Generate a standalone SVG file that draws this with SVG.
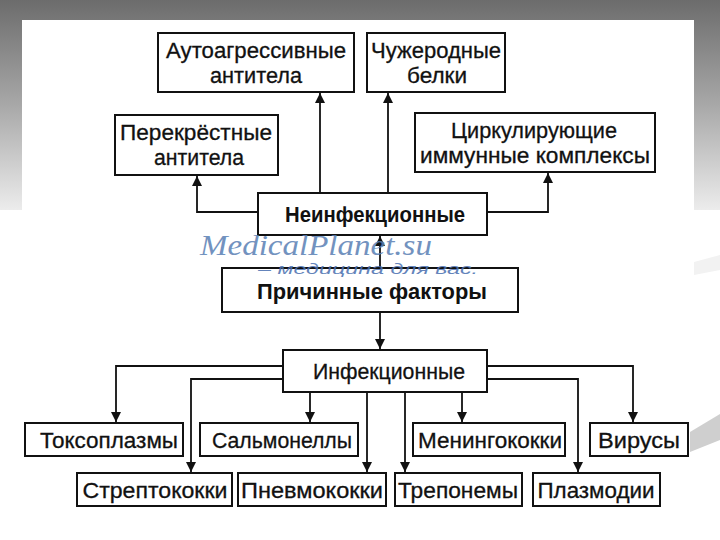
<svg xmlns="http://www.w3.org/2000/svg" width="720" height="540" viewBox="0 0 720 540">
<defs>
<linearGradient id="bg" x1="0" y1="0" x2="0" y2="1">
<stop offset="0" stop-color="#6c6c6c"/>
<stop offset="0.5" stop-color="#a8a8a8"/>
<stop offset="1" stop-color="#ececec"/>
</linearGradient>
<marker id="ah" viewBox="0 0 10 12" refX="10" refY="6" markerWidth="10" markerHeight="12" markerUnits="userSpaceOnUse" orient="auto">
<path d="M0,1 L10,6 L0,11 z" fill="#111"/>
</marker>
<style>
.box{fill:#fff;stroke:#111;stroke-width:2}
.t{font-family:"Liberation Sans",Arial,sans-serif;font-size:22px;fill:#111;text-anchor:middle;stroke:#111;stroke-width:0.3}
.b{font-weight:bold;stroke-width:0}
.c{fill:none;stroke:#111;stroke-width:1.8;marker-end:url(#ah)}
.wm{font-family:"Liberation Serif",serif;font-style:italic;fill:#5a7fb5;opacity:0.85}
.wm2{font-family:"Liberation Sans",sans-serif;font-style:italic;fill:#4a6fb0;opacity:0.85}
</style>
</defs>
<rect x="0" y="0" width="720" height="210" fill="url(#bg)"/>
<rect x="22" y="20" width="672" height="520" fill="#fff"/>
<rect x="0" y="210" width="720" height="330" fill="#fff"/>
<path d="M690,432 L720,414 L720,440 L690,452 z" fill="#cfcfcf"/>
<path d="M694,262 L720,255 L720,270 L694,275 z" fill="#f2f2f2"/>

<g id="connectors">
<path class="c" d="M320,193 V93"/>
<path class="c" d="M388,193 V93"/>
<path class="c" d="M258,212 H197 V176"/>
<path class="c" d="M487,212 H548 V173"/>
<path class="c" d="M380,268 V236"/>
<path class="c" d="M380,312 V349"/>
<path class="c" d="M283,366 H116 V422"/>
<path class="c" d="M283,379 H191 V472"/>
<path class="c" d="M310,392 V422"/>
<path class="c" d="M367,392 V472"/>
<path class="c" d="M405,392 V472"/>
<path class="c" d="M462,392 V422"/>
<path class="c" d="M487,366 H633 V422"/>
<path class="c" d="M487,379 H578 V472"/>
</g>

<g id="autoaggr"><rect class="box" x="158" y="33" width="196" height="59"/>
<text class="t" x="256" y="58" textLength="180" lengthAdjust="spacingAndGlyphs">Аутоагрессивные</text>
<text class="t" x="256" y="83" textLength="92" lengthAdjust="spacingAndGlyphs">антитела</text></g>
<g id="foreign"><rect class="box" x="367" y="33" width="138" height="59"/>
<text class="t" x="436" y="58" textLength="130" lengthAdjust="spacingAndGlyphs">Чужеродные</text>
<text class="t" x="437" y="83" textLength="60" lengthAdjust="spacingAndGlyphs">белки</text></g>
<g id="cross"><rect class="box" x="115" y="115" width="163" height="60"/>
<text class="t" x="196" y="140" textLength="152" lengthAdjust="spacingAndGlyphs">Перекрёстные</text>
<text class="t" x="199" y="165" textLength="90" lengthAdjust="spacingAndGlyphs">антитела</text></g>
<g id="circ"><rect class="box" x="415" y="113" width="240" height="59"/>
<text class="t" x="534" y="138" textLength="166" lengthAdjust="spacingAndGlyphs">Циркулирующие</text>
<text class="t" x="535" y="163" textLength="230" lengthAdjust="spacingAndGlyphs">иммунные комплексы</text></g>
<g id="noninf"><rect class="box" x="258" y="193" width="229" height="42"/>
<text class="t b" x="375" y="222" textLength="180" lengthAdjust="spacingAndGlyphs">Неинфекционные</text></g>
<g id="causes"><rect class="box" x="222" y="268" width="296" height="44"/>
<text class="t b" x="372" y="299" textLength="230" lengthAdjust="spacingAndGlyphs">Причинные факторы</text></g>
<g id="inf"><rect class="box" x="283" y="350" width="204" height="42"/>
<text class="t" x="389" y="379" textLength="152" lengthAdjust="spacingAndGlyphs">Инфекционные</text></g>

<g id="toxo"><rect class="box" x="25" y="423" width="158" height="33"/>
<text class="t" x="109" y="448" textLength="138" lengthAdjust="spacingAndGlyphs">Токсоплазмы</text></g>
<g id="salm"><rect class="box" x="200" y="423" width="158" height="33"/>
<text class="t" x="282" y="448" textLength="140" lengthAdjust="spacingAndGlyphs">Сальмонеллы</text></g>
<g id="mening"><rect class="box" x="413" y="423" width="152" height="33"/>
<text class="t" x="490" y="448" textLength="144" lengthAdjust="spacingAndGlyphs">Менингококки</text></g>
<g id="virus"><rect class="box" x="590" y="423" width="98" height="33"/>
<text class="t" x="639" y="448" textLength="82" lengthAdjust="spacingAndGlyphs">Вирусы</text></g>
<g id="strep"><rect class="box" x="77" y="473" width="155" height="33"/>
<text class="t" x="155" y="498" textLength="145" lengthAdjust="spacingAndGlyphs">Стрептококки</text></g>
<g id="pneumo"><rect class="box" x="238" y="473" width="148" height="33"/>
<text class="t" x="312" y="498" textLength="142" lengthAdjust="spacingAndGlyphs">Пневмококки</text></g>
<g id="trepon"><rect class="box" x="395" y="473" width="127" height="33"/>
<text class="t" x="458" y="498" textLength="120" lengthAdjust="spacingAndGlyphs">Трепонемы</text></g>
<g id="plasm"><rect class="box" x="533" y="473" width="127" height="33"/>
<text class="t" x="596" y="498" textLength="117" lengthAdjust="spacingAndGlyphs">Плазмодии</text></g>

<g id="watermark">
<text class="wm" x="200" y="255" font-size="29" textLength="232" lengthAdjust="spacingAndGlyphs">MedicalPlanet.su</text>
<text class="wm2" x="258" y="274" font-size="14" textLength="220" lengthAdjust="spacingAndGlyphs">– медицина для вас.</text>
</g>
</svg>
